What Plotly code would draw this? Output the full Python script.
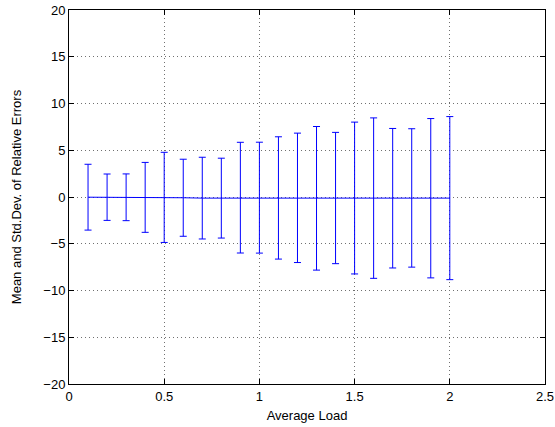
import plotly.graph_objects as go

load = [0.1, 0.2, 0.3, 0.4, 0.5, 0.6, 0.7, 0.8, 0.9, 1.0,
        1.1, 1.2, 1.3, 1.4, 1.5, 1.6, 1.7, 1.8, 1.9, 2.0]
mean_err = [-0.02, -0.02, -0.03, -0.04, -0.04, -0.08, -0.12, -0.12, -0.07, -0.07,
            -0.10, -0.09, -0.14, -0.11, -0.11, -0.12, -0.13, -0.10, -0.13, -0.12]
std_err = [3.52, 2.48, 2.50, 3.74, 4.82, 4.12, 4.37, 4.27, 5.92, 5.93,
           6.54, 6.92, 7.68, 7.02, 8.12, 8.58, 7.46, 7.40, 8.52, 8.72]

x_ticks = [0, 0.5, 1, 1.5, 2, 2.5]
x_tick_labels = ["0", "0.5", "1", "1.5", "2", "2.5"]
y_ticks = [-20, -15, -10, -5, 0, 5, 10, 15, 20]

font = dict(family="Liberation Sans, Arial, Helvetica, sans-serif", size=13, color="black")

fig = go.Figure()
fig.add_trace(go.Scatter(
    x=load, y=mean_err, mode="lines",
    line=dict(color="#0000ff", width=1),
    error_y=dict(type="data", array=std_err, visible=True,
                 color="#0000ff", thickness=1, width=3.5),
    showlegend=False,
))

axis_common = dict(
    showline=True, linecolor="black", linewidth=1, mirror="ticks",
    ticks="inside", ticklen=5, tickcolor="black", tickwidth=1,
    showgrid=True, gridcolor="#707070", griddash="1px,3px", gridwidth=1,
    zeroline=False, tickfont=font, automargin=False,
)

fig.update_layout(
    width=555, height=427,
    margin=dict(l=69, r=10, t=10, b=43),
    paper_bgcolor="white", plot_bgcolor="white",
    font=font,
    xaxis=dict(range=[0, 2.5], tickvals=x_ticks, ticktext=x_tick_labels,
               title=dict(text="Average Load", font=font, standoff=8),
               **axis_common),
    yaxis=dict(range=[-20, 20], tickvals=y_ticks,
               title=dict(text="Mean and Std.Dev. of Relative Errors", font=font, standoff=18),
               **axis_common),
)

fig.write_html("out.html")
